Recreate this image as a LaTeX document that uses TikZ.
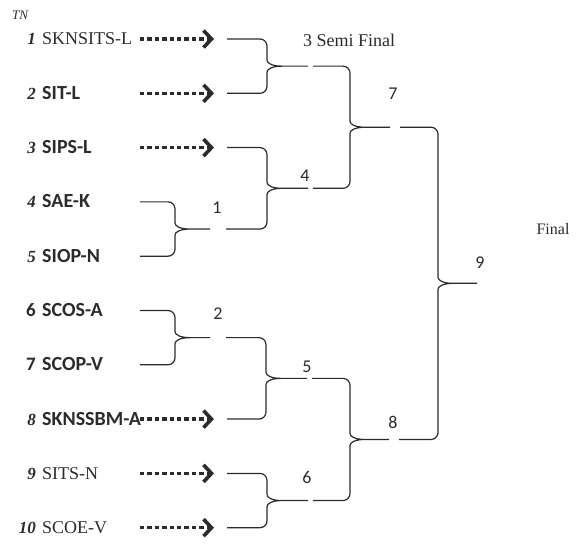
\documentclass[tikz,border=0pt]{standalone}
\usepackage{fontspec}
\setmainfont{Liberation Serif}
\setsansfont{Carlito}
\usetikzlibrary{arrows.meta,calc}
\definecolor{ink}{HTML}{2B2B2B}
\tikzset{
  brk/.style={line width=1.2pt,draw=ink},
  dotarr/.style={draw=ink,line width=3.4pt,dash pattern=on 4.4pt off 3pt,
    -{Straight Barb[length=8pt,width=17pt,line width=3.6pt]}},
  rnum/.style={inner sep=0pt,text=ink,font=\fontsize{17}{20}\selectfont\bfseries\itshape},
  snum/.style={inner sep=0pt,text=ink,font=\fontsize{19}{22}\selectfont\sffamily\bfseries},
  tserif/.style={inner sep=0pt,text=ink,font=\fontsize{18}{21}\selectfont},
  tsans/.style={inner sep=0pt,text=ink,font=\fontsize{20}{23}\selectfont\sffamily\bfseries},
  mlbl/.style={inner sep=0pt,text=ink,font=\fontsize{18}{21}\selectfont\sffamily},
  stage/.style={inner sep=0pt,text=ink,font=\fontsize{18}{21}\selectfont},
  tnlbl/.style={inner sep=0pt,text=ink,font=\fontsize{13}{15}\selectfont\itshape},
}
% bracket: top input, bottom input, arm length, tip length, name of tip
\newcommand{\tie}[5]{%
  \draw[brk] let \p1=(#1), \p2=(#2), \n1={\x1+#3pt}, \n2={(\y1+\y2)/2} in
    (\p1) [rounded corners=7pt] -| (\n1,\n2+13) [sharp corners]
      .. controls (\n1,\n2+3) and (\n1+5,\n2) .. (\n1+15,\n2) -- (\n1+#4,\n2)
    (\p2) [rounded corners=7pt] -| (\n1,\n2-13) [sharp corners]
      .. controls (\n1,\n2-3) and (\n1+5,\n2) .. (\n1+15,\n2)
    (\n1+#4,\n2) coordinate (#5);
}
\begin{document}
\begin{tikzpicture}[x=1pt,y=1pt]
  \useasboundingbox (0,0) rectangle (576,-545);
  \node[tnlbl] (tn) at (20,-15) {TN};
  % teams
  \foreach \i/\nm/\ns/\ts in {1/SKNSITS-L/rnum/tserif, 2/SIT-L/rnum/tsans,
      3/SIPS-L/rnum/tsans, 4/SAE-K/rnum/tsans, 5/SIOP-N/rnum/tsans,
      6/SCOS-A/snum/tsans, 7/SCOP-V/snum/tsans, 8/SKNSSBM-A/rnum/tsans,
      9/SITS-N/rnum/tserif, 10/SCOE-V/rnum/tserif}{
    \pgfmathsetmacro\yr{-39-(\i-1)*54.3}
    \node[\ns,anchor=base east] (n\i) at (36,\yr-6) {\i};
    \node[\ts,anchor=base west] (t\i) at (42,\yr-6) {\nm};
    \coordinate (s\i) at (140,\yr);
    \coordinate (e\i) at (214,\yr);
  }
  \foreach \i in {1,2,3,8,9,10}
    \draw[dotarr] (s\i) -- (e\i);
  % rounds
  \tie{$(e1)+(13,0)$}{$(e2)+(13,0)$}{40}{41}{m3}
  \tie{s4}{s5}{35}{35}{m1}
  \tie{$(e3)+(13,0)$}{$(m1)+(16,0)$}{40}{41}{m4}
  \tie{s6}{s7}{35}{35}{m2}
  \tie{$(m2)+(16,0)$}{$(e8)+(13,0)$}{40}{41}{m5}
  \tie{$(e9)+(13,0)$}{$(e10)+(13,0)$}{40}{41}{m6}
  \tie{$(m3)+(5,0)$}{$(m4)+(5,0)$}{37}{40}{m7}
  \tie{$(m5)+(5,0)$}{$(m6)+(5,0)$}{38}{39}{m8}
  \tie{$(m7)+(10,0)$}{$(m8)+(10,0)$}{38}{39}{m9}
  % match numbers
  \node[mlbl] (l1) at (217,-208) {1};
  \node[mlbl] (l2) at (218,-314) {2};
  \node[mlbl] (l4) at (305,-176) {4};
  \node[mlbl] (l5) at (307,-367) {5};
  \node[mlbl] (l6) at (307,-477) {6};
  \node[mlbl] (l7) at (393,-94) {7};
  \node[mlbl] (l8) at (393,-422) {8};
  \node[mlbl] (l9) at (480,-263) {9};
  \node[stage] (semi) at (349,-40) {3 Semi Final};
  \node[stage,font=\fontsize{16}{19}\selectfont] (final) at (553,-229) {Final};
\end{tikzpicture}
\end{document}
